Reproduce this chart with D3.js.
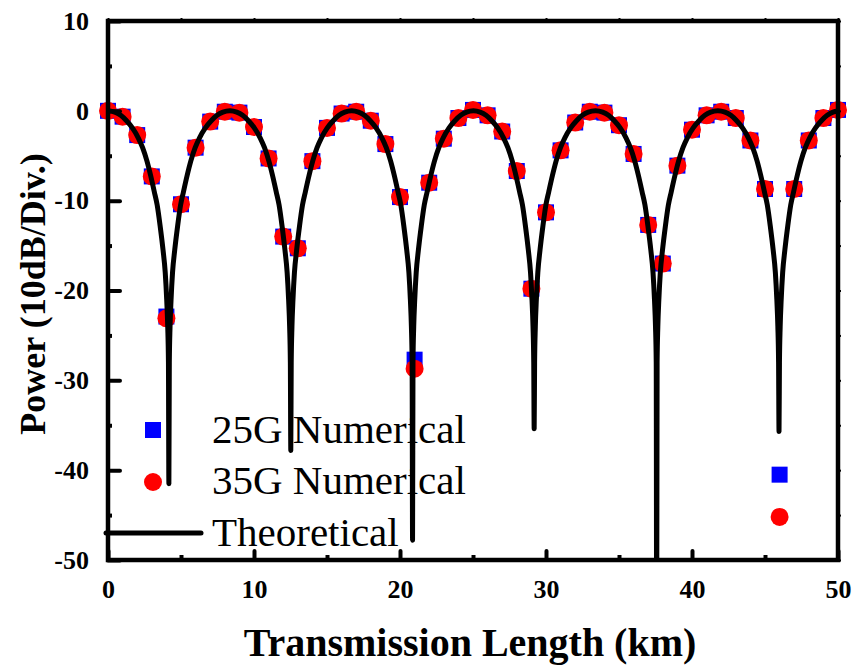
<!DOCTYPE html>
<html>
<head>
<meta charset="utf-8">
<script src="https://cdn.jsdelivr.net/npm/d3@7"></script>
<style>
  html, body { margin: 0; padding: 0; background: #fff; }
  svg { display: block; }
  text { font-family: "Liberation Serif", "Times New Roman", serif; fill: #000; }
</style>
</head>
<body>
<svg id="chart" width="856" height="668"></svg>
<script>
// Transmission lengths (km) of the numerical samples
const lengthKm = d3.range(0, 51);

// Numerically simulated received power (dB), 25G and 35G
const power25G = [0, -0.65, -2.7, -7.3, -22.9, -10.4, -4.1, -1.2, -0.1, -0.2,
  -1.8, -5.3, -14.0, -15.3, -5.6, -1.9, -0.3, -0.1, -1.1, -3.7,
  -9.6, -27.7, -8.0, -3.1, -0.8, 0.1, -0.5, -2.3, -6.7, -19.8,
  -11.3, -4.4, -1.3, -0.1, -0.2, -1.6, -4.8, -12.7, -17.0, -6.1,
  -2.1, -0.5, -0.1, -0.8, -3.3, -8.7, -40.5, -8.7, -3.3, -0.8, 0.1];
const power35G = [0, -0.65, -2.7, -7.3, -23.1, -10.4, -4.1, -1.2, -0.1, -0.2,
  -1.8, -5.3, -14.0, -15.3, -5.6, -1.9, -0.3, -0.1, -1.1, -3.7,
  -9.6, -28.7, -8.0, -3.1, -0.8, 0.1, -0.5, -2.3, -6.7, -19.8,
  -11.3, -4.4, -1.3, -0.1, -0.2, -1.6, -4.8, -12.7, -17.0, -6.1,
  -2.1, -0.5, -0.1, -0.8, -3.3, -8.7, -45.2, -8.7, -3.3, -0.8, 0.1];

// Theoretical power-fading curve (km, dB)
const theoryKm = [
  0, 0.47, 0.87, 1.27, 1.67, 2.07, 2.37, 2.67, 2.92, 3.17, 3.37, 3.57, 3.77, 3.92, 4.02, 4.09, 4.14, 4.17,
  4.20, 4.25, 4.32, 4.42, 4.57, 4.77, 4.97, 5.17, 5.42, 5.67, 5.97, 6.27, 6.67, 7.07, 7.47, 7.87, 8.35,
  8.82, 9.22, 9.62, 10.02, 10.42, 10.72, 11.02, 11.27, 11.52, 11.72, 11.92, 12.12, 12.27, 12.37, 12.44, 12.49, 12.52,
  12.55, 12.60, 12.67, 12.77, 12.92, 13.12, 13.32, 13.52, 13.77, 14.02, 14.32, 14.62, 15.02, 15.42, 15.82, 16.22, 16.69,
  17.16, 17.56, 17.96, 18.36, 18.76, 19.06, 19.36, 19.61, 19.86, 20.06, 20.26, 20.46, 20.61, 20.71, 20.78, 20.83, 20.86,
  20.89, 20.94, 21.01, 21.11, 21.26, 21.46, 21.66, 21.86, 22.11, 22.36, 22.66, 22.96, 23.36, 23.76, 24.16, 24.56, 25.03,
  25.49, 25.89, 26.29, 26.69, 27.09, 27.39, 27.69, 27.94, 28.19, 28.39, 28.59, 28.79, 28.94, 29.04, 29.11, 29.16, 29.19,
  29.22, 29.27, 29.34, 29.44, 29.59, 29.79, 29.99, 30.19, 30.44, 30.69, 30.99, 31.29, 31.69, 32.09, 32.49, 32.89, 33.39,
  33.88, 34.28, 34.68, 35.08, 35.48, 35.78, 36.08, 36.33, 36.58, 36.78, 36.98, 37.18, 37.33, 37.43, 37.50, 37.55, 37.58,
  37.61, 37.66, 37.73, 37.83, 37.98, 38.18, 38.38, 38.58, 38.83, 39.08, 39.38, 39.68, 40.08, 40.48, 40.88, 41.28, 41.77,
  42.26, 42.66, 43.06, 43.46, 43.86, 44.16, 44.46, 44.71, 44.96, 45.16, 45.36, 45.56, 45.71, 45.81, 45.88, 45.93, 45.96,
  45.99, 46.04, 46.11, 46.21, 46.36, 46.56, 46.76, 46.96, 47.21, 47.46, 47.76, 48.06, 48.46, 48.86, 49.26, 49.66, 50
];
const theoryDb = [
  0, -0.15, -0.5, -1.1, -1.9, -3.0, -4.1, -5.6, -7.2, -9.0, -10.5, -12.8, -15.5, -18, -21, -24, -28, -41.5,
  -28, -24, -21, -18, -15.5, -12.8, -10.5, -9.0, -7.2, -5.6, -4.1, -3.0, -1.9, -1.1, -0.5, -0.15, 0,
  -0.15, -0.5, -1.1, -1.9, -3.0, -4.1, -5.6, -7.2, -9.0, -10.5, -12.8, -15.5, -18, -21, -24, -28, -37.8,
  -28, -24, -21, -18, -15.5, -12.8, -10.5, -9.0, -7.2, -5.6, -4.1, -3.0, -1.9, -1.1, -0.5, -0.15, 0,
  -0.15, -0.5, -1.1, -1.9, -3.0, -4.1, -5.6, -7.2, -9.0, -10.5, -12.8, -15.5, -18, -21, -24, -28, -47.8,
  -28, -24, -21, -18, -15.5, -12.8, -10.5, -9.0, -7.2, -5.6, -4.1, -3.0, -1.9, -1.1, -0.5, -0.15, 0,
  -0.15, -0.5, -1.1, -1.9, -3.0, -4.1, -5.6, -7.2, -9.0, -10.5, -12.8, -15.5, -18, -21, -24, -28, -35.4,
  -28, -24, -21, -18, -15.5, -12.8, -10.5, -9.0, -7.2, -5.6, -4.1, -3.0, -1.9, -1.1, -0.5, -0.15, 0,
  -0.15, -0.5, -1.1, -1.9, -3.0, -4.1, -5.6, -7.2, -9.0, -10.5, -12.8, -15.5, -18, -21, -24, -28, -60,
  -28, -24, -21, -18, -15.5, -12.8, -10.5, -9.0, -7.2, -5.6, -4.1, -3.0, -1.9, -1.1, -0.5, -0.15, 0,
  -0.15, -0.5, -1.1, -1.9, -3.0, -4.1, -5.6, -7.2, -9.0, -10.5, -12.8, -15.5, -18, -21, -24, -28, -35.7,
  -28, -24, -21, -18, -15.5, -12.8, -10.5, -9.0, -7.2, -5.6, -4.1, -3.0, -1.9, -1.1, -0.5, -0.15, -0.02
];

// Axis ticks
const xMajor = [0, 10, 20, 30, 40, 50];
const xMinor = [5, 15, 25, 35, 45];
const yMajor = [10, 0, -10, -20, -30, -40, -50];
const yMinor = [5, -5, -15, -25, -35, -45];

const legendLabels = ["25G Numerical", "35G Numerical", "Theoretical"];

const svg = d3.select("#chart");
const plotLeft = 108, plotRight = 838, plotTop = 21, plotBottom = 560;

const x = d3.scaleLinear().domain([0, 50]).range([plotLeft, plotRight]);
const y = d3.scaleLinear().domain([-50, 10]).range([plotBottom, plotTop]);

svg.append("defs").append("clipPath").attr("id", "plotClip")
  .append("rect").attr("x", plotLeft).attr("y", plotTop)
  .attr("width", plotRight - plotLeft).attr("height", plotBottom - plotTop);

// Numerical points: squares first, circles on top
const sq = 16;
svg.append("g").selectAll("rect").data(lengthKm).join("rect")
  .attr("x", d => x(d) - sq / 2)
  .attr("y", (d, i) => y(power25G[i]) - sq / 2)
  .attr("width", sq).attr("height", sq)
  .attr("fill", "#0000ff");

svg.append("g").selectAll("circle").data(lengthKm).join("circle")
  .attr("cx", d => x(d))
  .attr("cy", (d, i) => y(power35G[i]))
  .attr("r", 9)
  .attr("fill", "#ff0000");

// Theoretical curve
const theory = theoryKm.map((k, i) => [k, theoryDb[i]]);
svg.append("path")
  .datum(theory)
  .attr("clip-path", "url(#plotClip)")
  .attr("fill", "none")
  .attr("stroke", "#000")
  .attr("stroke-width", 5)
  .attr("stroke-linejoin", "round")
  .attr("stroke-linecap", "round")
  .attr("d", d3.line().x(d => x(d[0])).y(d => y(d[1])).curve(d3.curveMonotoneX));

// Axes (plain hyphen for negative labels)
const plainNum = d => String(d);
const tickFont = g => g.selectAll("text")
  .style("font-family", "'Liberation Serif', 'Times New Roman', serif")
  .style("font-weight", "bold").style("font-size", "26px");

const gxMinor = svg.append("g").attr("transform", `translate(0,${plotBottom})`)
  .call(d3.axisBottom(x).tickValues(xMinor).tickSize(-5).tickFormat(""));
const gx = svg.append("g").attr("transform", `translate(0,${plotBottom})`)
  .call(d3.axisBottom(x).tickValues(xMajor).tickSize(-9).tickPadding(20).tickFormat(plainNum))
  .call(tickFont);
const gyMinor = svg.append("g").attr("transform", `translate(${plotLeft},0)`)
  .call(d3.axisLeft(y).tickValues(yMinor).tickSize(-4).tickFormat(""));
const gy = svg.append("g").attr("transform", `translate(${plotLeft},0)`)
  .call(d3.axisLeft(y).tickValues(yMajor).tickSize(-12).tickPadding(19).tickFormat(plainNum))
  .call(tickFont);
const gTop = svg.append("g").attr("transform", `translate(0,${plotTop})`)
  .call(d3.axisTop(x).tickValues(xMajor.concat(xMinor)).tickSize(3).tickFormat(""));
const gRight = svg.append("g").attr("transform", `translate(${plotRight},0)`)
  .call(d3.axisRight(y).tickValues(yMajor.concat(yMinor)).tickSize(3).tickFormat(""));

[gxMinor, gx, gyMinor, gy, gTop, gRight].forEach(g => {
  g.select(".domain").remove();
  g.selectAll(".tick line").attr("stroke", "#000").attr("stroke-width", 4);
});
gTop.selectAll(".tick line").attr("stroke-width", 2);
gRight.selectAll(".tick line").attr("stroke-width", 2);
gx.selectAll(".tick line").attr("stroke-linecap", "round");
gy.selectAll(".tick line").attr("stroke-linecap", "round");

// Frame
svg.append("rect")
  .attr("x", plotLeft).attr("y", plotTop)
  .attr("width", plotRight - plotLeft).attr("height", plotBottom - plotTop)
  .attr("fill", "none").attr("stroke", "#000").attr("stroke-width", 4.5);

// Axis titles
svg.append("text")
  .attr("x", 470).attr("y", 656)
  .attr("text-anchor", "middle")
  .style("font-weight", "bold").style("font-size", "40px")
  .text("Transmission Length (km)");

svg.append("text")
  .attr("transform", "translate(45,294) rotate(-90)")
  .attr("text-anchor", "middle")
  .style("font-weight", "bold").style("font-size", "36px")
  .text("Power (10dB/Div.)");

// Legend
const lg = svg.append("g");
lg.append("rect").attr("x", 153 - sq / 2).attr("y", 430 - sq / 2)
  .attr("width", sq).attr("height", sq).attr("fill", "#0000ff");
lg.append("circle").attr("cx", 153).attr("cy", 482).attr("r", 9).attr("fill", "#ff0000");
lg.append("line").attr("x1", 106).attr("x2", 201).attr("y1", 533).attr("y2", 533)
  .attr("stroke", "#000").attr("stroke-width", 5).attr("stroke-linecap", "round");
const legendY = [443, 494, 546];
lg.selectAll("text").data(legendLabels).join("text")
  .attr("x", 212).attr("y", (d, i) => legendY[i])
  .style("font-size", "41px")
  .text(d => d);
</script>
</body>
</html>
